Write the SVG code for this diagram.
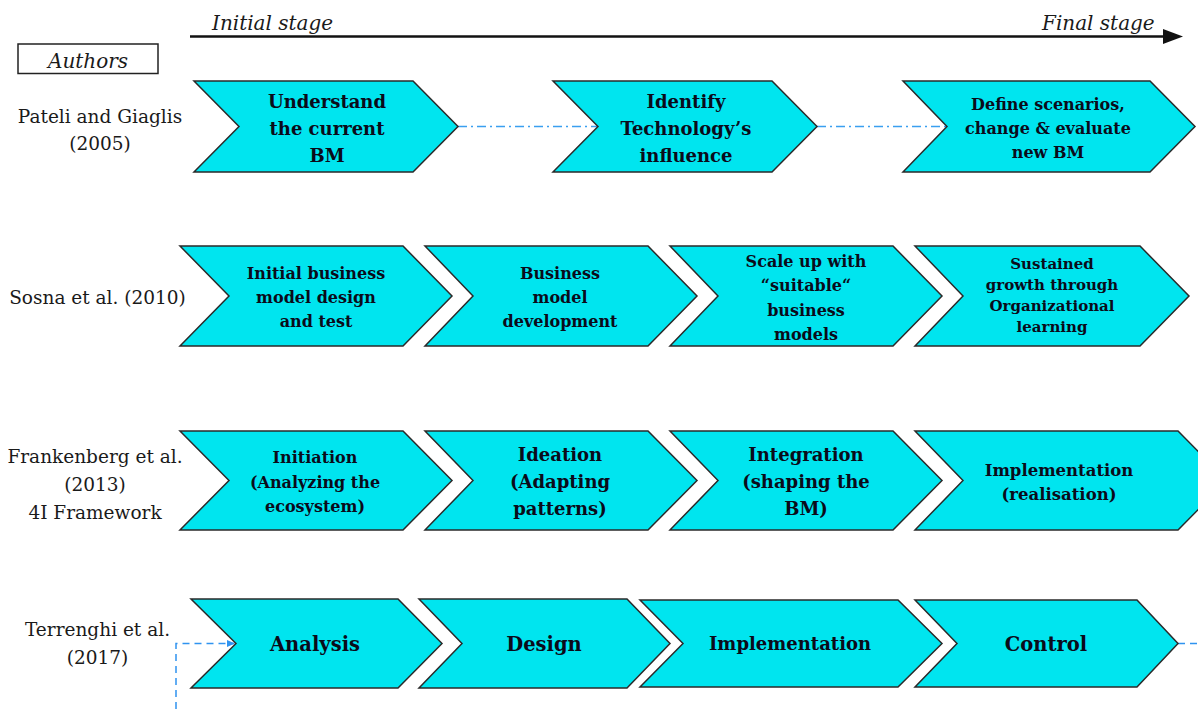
<svg xmlns="http://www.w3.org/2000/svg" width="1198" height="709" viewBox="0 0 1198 709">
<style>
.chev{fill:#00E5EF;stroke:#2a2a2a;stroke-width:1.5;stroke-linejoin:miter}
.t{font-family:"DejaVu Serif","Liberation Serif",serif;font-weight:bold;text-anchor:middle;fill:#0b0b1a}
.lab{font-family:"DejaVu Serif","Liberation Serif",serif;font-size:18.5px;text-anchor:middle;fill:#1a1a1a}
.it{font-family:"DejaVu Serif","Liberation Serif",serif;font-style:italic;font-size:20px;fill:#1a1a1a}
.dd{fill:none;stroke:#3a9ff0;stroke-width:1.5;stroke-dasharray:9 4 2 4}
.da{fill:none;stroke:#2f93f0;stroke-width:1.5;stroke-dasharray:7 5}
</style>
<defs>
<marker id="ah" markerWidth="8" markerHeight="8" refX="7" refY="4" orient="auto" markerUnits="userSpaceOnUse">
<path d="M0,0.5 L8,4 L0,7.5 Z" fill="#2f93f0"/>
</marker>
</defs>

<g id="header">
<line x1="190" y1="36.5" x2="1165" y2="36.5" stroke="#111" stroke-width="2.5"/>
<polygon points="1163,29 1183,36.5 1163,44" fill="#111"/>
<text class="it" x="212" y="30">Initial stage</text>
<text class="it" x="1042" y="30">Final stage</text>
</g>

<g id="authors">
<rect x="18" y="44" width="140" height="29.5" fill="#fff" stroke="#222" stroke-width="1.5"/>
<text class="it" x="88" y="68" text-anchor="middle">Authors</text>
</g>

<g id="labels">
<text class="lab" x="100" y="123">Pateli and Giaglis</text>
<text class="lab" x="100" y="150">(2005)</text>
<text class="lab" x="97.5" y="304">Sosna et al. (2010)</text>
<text class="lab" x="95" y="463">Frankenberg et al.</text>
<text class="lab" x="95" y="491">(2013)</text>
<text class="lab" x="95" y="519">4I Framework</text>
<text class="lab" x="97.5" y="636">Terrenghi et al.</text>
<text class="lab" x="97.5" y="664">(2017)</text>
</g>

<g id="connectors">
<line class="dd" x1="458" y1="126.5" x2="598" y2="126.5"/>
<line class="dd" x1="817" y1="126.5" x2="947" y2="126.5"/>
<polyline class="da" points="176,709 176,643.5 234,643.5" marker-end="url(#ah)"/>
<line class="da" x1="1178" y1="643.5" x2="1198" y2="643.5"/>
</g>

<g id="r1c1">
<polygon class="chev" points="194,81 413,81 458,126.5 413,172 194,172 239,126.5"/>
<text class="t" font-size="18" x="327" y="108">Understand</text>
<text class="t" font-size="18" x="327" y="135">the current</text>
<text class="t" font-size="18" x="327" y="162">BM</text>
</g>
<g id="r1c2">
<polygon class="chev" points="553,81 772,81 817,126.5 772,172 553,172 598,126.5"/>
<text class="t" font-size="18" x="686" y="108">Identify</text>
<text class="t" font-size="18" x="686" y="135">Technology’s</text>
<text class="t" font-size="18" x="686" y="162">influence</text>
</g>
<g id="r1c3">
<polygon class="chev" points="903,81 1150,81 1195,126.5 1150,172 903,172 947,126.5"/>
<text class="t" font-size="16" x="1048" y="110">Define scenarios,</text>
<text class="t" font-size="16" x="1048" y="134">change &amp; evaluate</text>
<text class="t" font-size="16" x="1048" y="158">new BM</text>
</g>

<g id="r2c1">
<polygon class="chev" points="180,246 403,246 452,296 403,346 180,346 229,296"/>
<text class="t" font-size="16" x="316" y="279">Initial business</text>
<text class="t" font-size="16" x="316" y="303">model design</text>
<text class="t" font-size="16" x="316" y="327">and test</text>
</g>
<g id="r2c2">
<polygon class="chev" points="425,246 648,246 697,296 648,346 425,346 473,296"/>
<text class="t" font-size="16" x="560" y="279">Business</text>
<text class="t" font-size="16" x="560" y="303">model</text>
<text class="t" font-size="16" x="560" y="327">development</text>
</g>
<g id="r2c3">
<polygon class="chev" points="670,246 893,246 942,296 893,346 670,346 718,296"/>
<text class="t" font-size="16" x="806" y="267">Scale up with</text>
<text class="t" font-size="16" x="806" y="291">“suitable“</text>
<text class="t" font-size="16" x="806" y="315.5">business</text>
<text class="t" font-size="16" x="806" y="340">models</text>
</g>
<g id="r2c4">
<polygon class="chev" points="915,246 1140,246 1189,296 1140,346 915,346 963,296"/>
<text class="t" font-size="15" x="1052" y="269">Sustained</text>
<text class="t" font-size="15" x="1052" y="290">growth through</text>
<text class="t" font-size="15" x="1052" y="311">Organizational</text>
<text class="t" font-size="15" x="1052" y="332">learning</text>
</g>

<g id="r3c1">
<polygon class="chev" points="180,431 403,431 452,480.5 403,530 180,530 229,480.5"/>
<text class="t" font-size="16" x="315" y="463">Initiation</text>
<text class="t" font-size="16" x="315" y="488">(Analyzing the</text>
<text class="t" font-size="16" x="315" y="512">ecosystem)</text>
</g>
<g id="r3c2">
<polygon class="chev" points="425,431 648,431 697,480.5 648,530 425,530 473,480.5"/>
<text class="t" font-size="18" x="560" y="461">Ideation</text>
<text class="t" font-size="18" x="560" y="488">(Adapting</text>
<text class="t" font-size="18" x="560" y="515">patterns)</text>
</g>
<g id="r3c3">
<polygon class="chev" points="670,431 893,431 942,480.5 893,530 670,530 718,480.5"/>
<text class="t" font-size="18" x="806" y="461">Integration</text>
<text class="t" font-size="18" x="806" y="488">(shaping the</text>
<text class="t" font-size="18" x="806" y="515">BM)</text>
</g>
<g id="r3c4">
<polygon class="chev" points="915,431 1178,431 1227,480.5 1178,530 915,530 963,480.5"/>
<text class="t" font-size="16.5" x="1059" y="476">Implementation</text>
<text class="t" font-size="16.5" x="1059" y="500">(realisation)</text>
</g>

<g id="r4c1">
<polygon class="chev" points="191,599 398,599 442,643.5 398,688 191,688 236,643.5"/>
<text class="t" font-size="19.5" x="315" y="651">Analysis</text>
</g>
<g id="r4c2">
<polygon class="chev" points="419,599 627,599 670,643.5 627,688 419,688 462,643.5"/>
<text class="t" font-size="19.5" x="544" y="651">Design</text>
</g>
<g id="r4c3">
<polygon class="chev" points="640,600 898,600 942,643.5 898,687 640,687 683,643.5"/>
<text class="t" font-size="18" x="790" y="650">Implementation</text>
</g>
<g id="r4c4">
<polygon class="chev" points="915,600 1137,600 1178,643.5 1137,687 915,687 957,643.5"/>
<text class="t" font-size="19.5" x="1046" y="651">Control</text>
</g>
</svg>
